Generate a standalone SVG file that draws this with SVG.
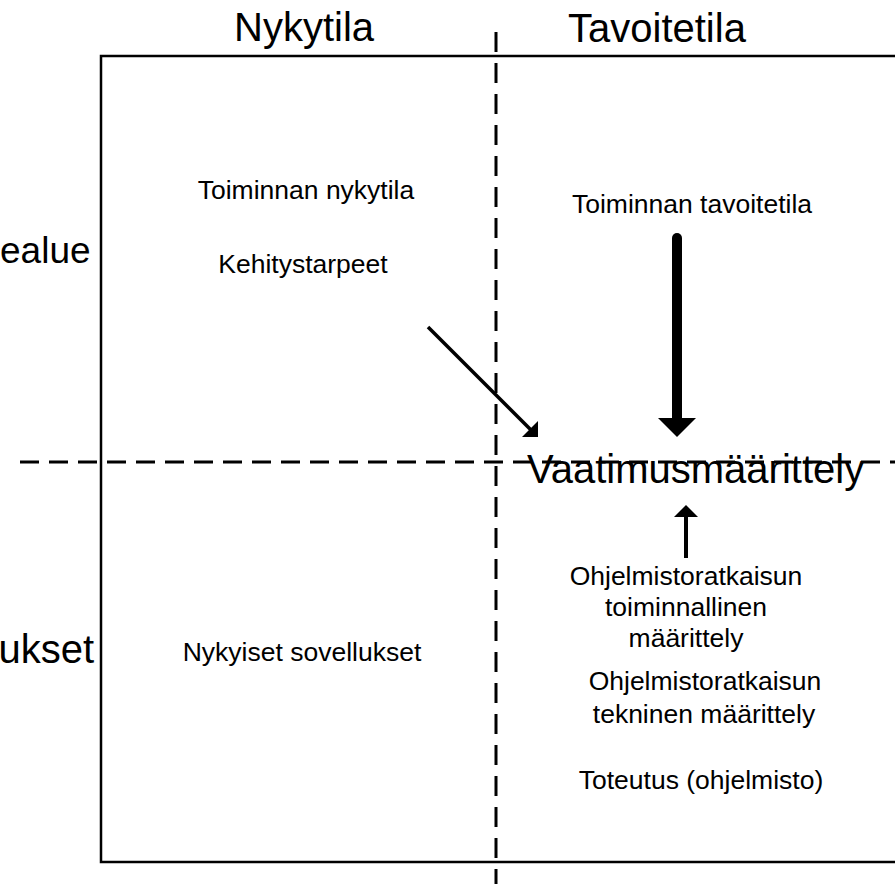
<svg xmlns="http://www.w3.org/2000/svg" width="895" height="884" viewBox="0 0 895 884">
<style>
text{font-family:"Liberation Sans",Arial,sans-serif;fill:#000}
.big{font-size:40px}
.sm{font-size:26.5px}
.c{text-anchor:middle}
.dash{stroke:#000;stroke-width:3;fill:none}
</style>
<rect width="895" height="884" fill="#fff"/>
<g id="frame">
<rect x="101" y="56" width="820" height="806" fill="none" stroke="#000" stroke-width="2.5"/>
<line class="dash" x1="496" y1="32" x2="496" y2="884" stroke-dasharray="20 11"/>
<line class="dash" x1="20" y1="462" x2="895" y2="462" stroke-dasharray="19 10"/>
</g>
<g id="headers">
<text class="big" x="234" y="41">Nykytila</text>
<text class="big" x="568" y="42">Tavoitetila</text>
<text x="0" y="263" style="font-size:37px">ealue</text>
<text class="big" x="94" y="663" text-anchor="end">ukset</text>
</g>
<g id="n-toiminnan-nykytila"><text class="sm c" x="306" y="199">Toiminnan nykytila</text></g>
<g id="n-kehitystarpeet"><text class="sm c" x="303" y="273">Kehitystarpeet</text></g>
<g id="n-toiminnan-tavoitetila"><text class="sm c" x="692" y="213">Toiminnan tavoitetila</text></g>
<g id="n-nykyiset"><text class="sm c" x="302" y="661">Nykyiset sovellukset</text></g>
<g id="n-vaatimus"><text class="big" x="527" y="483">Vaatimusmäärittely</text></g>
<g id="n-toiminnallinen">
<text class="sm c" x="686" y="585">Ohjelmistoratkaisun</text>
<text class="sm c" x="686" y="616">toiminnallinen</text>
<text class="sm c" x="686" y="647">määrittely</text>
</g>
<g id="n-tekninen">
<text class="sm c" x="705" y="690">Ohjelmistoratkaisun</text>
<text class="sm c" x="704" y="723">tekninen määrittely</text>
</g>
<g id="n-toteutus"><text class="sm c" x="701" y="789">Toteutus (ohjelmisto)</text></g>
<g id="connectors">
<line x1="677" y1="238" x2="677" y2="420" stroke="#000" stroke-width="10" stroke-linecap="round"/>
<path d="M658 418 L696 418 L677 437 Z" fill="#000"/>
<line x1="428" y1="327" x2="531" y2="430" stroke="#000" stroke-width="3.5"/>
<path d="M522 437 L538 437 L538 421 Z" fill="#000"/>
<line x1="686" y1="558" x2="686" y2="515" stroke="#000" stroke-width="4"/>
<path d="M674 517 L698 517 L686 505 Z" fill="#000"/>
</g>
</svg>
